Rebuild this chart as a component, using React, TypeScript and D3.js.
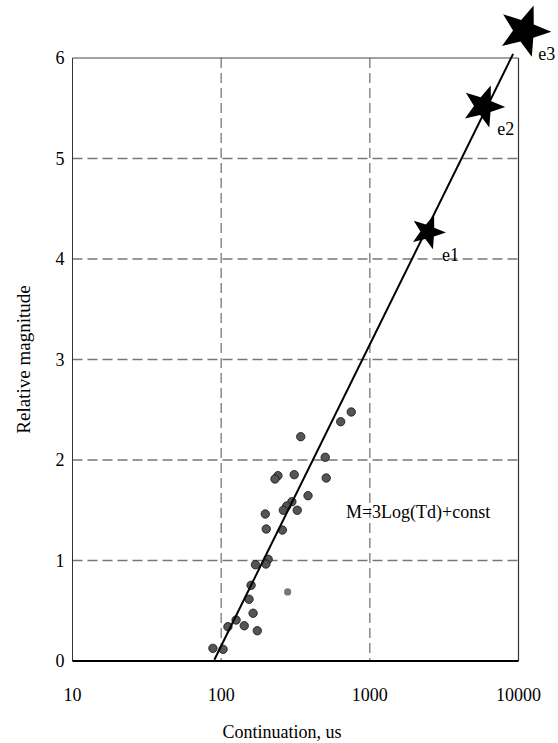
import React from "react";
import * as d3 from "d3";

const durations = [750, 637, 343, 501, 509, 241, 230, 310, 384, 299, 276, 262, 325, 198, 201, 258, 207, 200, 170, 159, 154, 164, 126, 111, 143, 175, 88, 103];
const magnitudes = [2.478, 2.381, 2.232, 2.027, 1.821, 1.844, 1.811, 1.854, 1.645, 1.585, 1.542, 1.5, 1.5, 1.463, 1.313, 1.303, 1.012, 0.965, 0.958, 0.753, 0.614, 0.475, 0.408, 0.341, 0.351, 0.301, 0.126, 0.116];
const outlierDurations = [280];
const outlierMagnitudes = [0.687];
const eventNames = ["e1", "e2", "e3"];
const eventDurations = [2460, 5790, 10950];
const eventMagnitudes = [4.27, 5.52, 6.27];
const eventSizes = [18, 22, 27];
const fitDurations = [90, 9200];
const fitSlope = 3;
const fitConst = -5.85;
const xTicks = [10, 100, 1000, 10000];
const yTicks = [0, 1, 2, 3, 4, 5, 6];
const xGrid = [100, 1000];
const yGrid = [1, 2, 3, 4, 5];
const formulaText = "M=3Log(Td)+const";

const W = 558, H = 743;
const L = 72.5, R = 518.5, T = 58, B = 661;
const FONT = "Liberation Serif, DejaVu Serif, serif";

function starPath(r: number, rot: number) {
  const pts: [number, number][] = [];
  const inner = r * 0.42;
  for (let i = 0; i < 10; i++) {
    const a = (rot + i * 36) * Math.PI / 180;
    const rr = i % 2 === 0 ? r : inner;
    pts.push([rr * Math.sin(a), -rr * Math.cos(a)]);
  }
  return d3.line()(pts) + "Z";
}

export default function App() {
  const x = d3.scaleLog().domain([10, 10000]).range([L, R]);
  const y = d3.scaleLinear().domain([0, 6]).range([B, T]);
  const fitLine = d3.line<number>()
    .x(t => x(t))
    .y(t => y(fitSlope * Math.log10(t) + fitConst));
  const ts = { fontFamily: FONT };

  return (
    <svg width={W} height={H} style={{ position: "absolute", left: 0, top: 0, background: "#fff", fontFamily: FONT }}>
      <rect x={0} y={0} width={W} height={H} fill="#fff" />
      {yGrid.map(v => (
        <line key={"yg" + v} x1={L} x2={R} y1={y(v)} y2={y(v)} stroke="#777" strokeWidth={1.3} strokeDasharray="10,5" />
      ))}
      {xGrid.map(v => (
        <line key={"xg" + v} x1={x(v)} x2={x(v)} y1={T} y2={B} stroke="#777" strokeWidth={1.3} strokeDasharray="10,5" />
      ))}
      <line x1={L} x2={R} y1={T} y2={T} stroke="#444" strokeWidth={1} />
      <line x1={L} x2={L} y1={T} y2={B} stroke="#333" strokeWidth={1} />
      <line x1={R} x2={R} y1={T} y2={B} stroke="#333" strokeWidth={1.2} />
      <line x1={L} x2={R} y1={B} y2={B} stroke="#000" strokeWidth={2} />

      {yTicks.map(v => (
        <text key={"yt" + v} style={ts} x={L - 8} y={y(v)} dy="0.35em" textAnchor="end" fontSize={18}>{v}</text>
      ))}
      {xTicks.map(v => (
        <text key={"xt" + v} style={ts} x={x(v)} y={701} textAnchor="middle" fontSize={18}>{v}</text>
      ))}
      <text style={ts} x={282} y={738} textAnchor="middle" fontSize={18}>Continuation, us</text>
      <text style={ts} transform={`translate(30,${(T + B) / 2}) rotate(-90)`} textAnchor="middle" fontSize={19}>Relative magnitude</text>

      {durations.map((d, i) => (
        <circle key={"p" + i} cx={x(d)} cy={y(magnitudes[i])} r={4.2} fill="#555" stroke="#111" strokeWidth={0.8} />
      ))}
      {outlierDurations.map((d, i) => (
        <circle key={"o" + i} cx={x(d)} cy={y(outlierMagnitudes[i])} r={3.6} fill="#777" />
      ))}

      <path d={fitLine(fitDurations) || ""} fill="none" stroke="#000" strokeWidth={2} />

      {eventNames.map((n, i) => (
        <g key={n}>
          <path transform={`translate(${x(eventDurations[i])},${y(eventMagnitudes[i])})`} d={starPath(eventSizes[i], 20)} fill="#000" />
          <text style={ts} x={x(eventDurations[i]) + 14} y={y(eventMagnitudes[i]) + 29} fontSize={18}>{n}</text>
        </g>
      ))}

      <text style={ts} x={x(690)} y={y(1.42)} fontSize={18}>{formulaText}</text>
    </svg>
  );
}
